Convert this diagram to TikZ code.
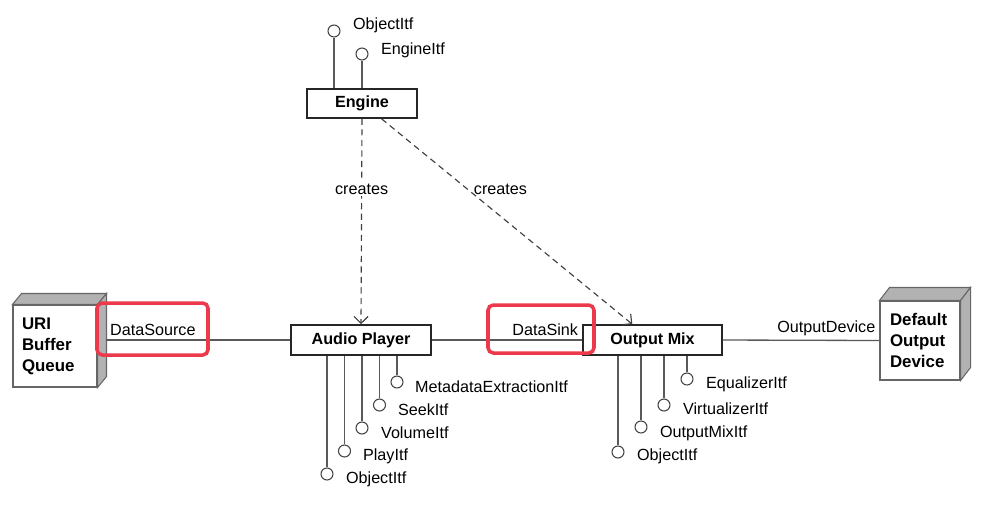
\documentclass[tikz,border=0pt]{standalone}
\usepackage{fontspec}
\setmainfont{Liberation Sans}
\usetikzlibrary{arrows.meta}

\definecolor{hired}{RGB}{236,58,76}
\definecolor{facegray}{RGB}{178,178,178}

\tikzset{
  box/.style={draw=black!85,line width=0.9pt,minimum height=0.6cm,
    font=\fontsize{9.2}{11}\selectfont\bfseries},
  dev/.style={draw=black!60,fill=white,line width=0.6pt,align=left,
    inner xsep=0pt,font=\fontsize{9.6}{12}\selectfont\bfseries},
  face/.style={fill=facegray,draw=black!60,line width=0.6pt},
  itf/.style={circle,draw=black!75,line width=0.6pt,fill=white,
    inner sep=0pt,minimum size=0.24cm},
  itfname/.style={anchor=west,inner sep=1pt},
  wire/.style={draw=black!65,line width=0.75pt},
  creates/.style={draw=black!75,line width=0.65pt,dash pattern=on 3.5pt off 2.5pt,
    -{Straight Barb[length=4pt,width=8pt]}},
  hilite/.style={draw=hired,line width=2pt,rounded corners=3pt}
}

\begin{document}
\begin{tikzpicture}[x=0.02cm,y=-0.02cm,
  every node/.style={font=\fontsize{9.2}{11}\selectfont}]

\useasboundingbox (0,0) rectangle (1001,512);

% objects
\node[box,minimum width=2.2cm,minimum height=0.58cm] (engine) at (362,103.5) {Engine};
\node[box,minimum width=2.8cm] (player) at (361,340) {Audio Player};
\node[box,minimum width=2.78cm] (mix) at (652.5,340) {Output Mix};

% devices
\node[dev,minimum width=1.68cm,minimum height=1.64cm,text width=1.32cm] (uri) at (55,346) {URI\\Buffer\\Queue};
\draw[face] (uri.north west) -- ++(9,-11) -- ([shift={(9,-11)}]uri.north east)
  -- (uri.north east) -- cycle;
\draw[face] (uri.north east) -- ([shift={(9,-11)}]uri.north east)
  -- ([shift={(9,-11)}]uri.south east) -- (uri.south east) -- cycle;
\coordinate (src) at (106,340);

\node[dev,minimum width=1.6cm,minimum height=1.58cm,text width=1.2cm] (out) at (920,340.5) {Default\\Output\\Device};
\draw[face] (out.north west) -- ++(10,-13) -- ([shift={(10,-13)}]out.north east)
  -- (out.north east) -- cycle;
\draw[face] (out.north east) -- ([shift={(10,-13)}]out.north east)
  -- ([shift={(10,-13)}]out.south east) -- (out.south east) -- cycle;

% links
\draw[wire] (src) -- node[pos=0,above right,inner sep=2pt] {DataSource} (player.west);
\draw[wire] (player.east) -- node[pos=1,above left,inner sep=2pt] {DataSink} (mix.west);
\draw[wire] (mix.east) -- node[pos=1,above left,inner sep=2pt] {OutputDevice} (out.west);

\draw[creates] (engine.south) -- node[pos=0.343,fill=white,inner sep=1pt] {creates} (player.north);
\draw[creates] (engine.-38) -- node[pos=0.343,right] {creates} (mix.142);

% engine interfaces
\node[itf] (engObj) at (334,31) {};
\node[itfname] at (351,25) {ObjectItf};
\draw[wire] (engObj) -- (engObj |- engine.north);
\node[itf] (engItf) at (362,54) {};
\node[itfname] at (379,50) {EngineItf};
\draw[wire] (engItf) -- (engItf |- engine.north);

% player interfaces
\node[itf] (apObj) at (327,474) {};
\node[itfname] at (344,479) {ObjectItf};
\draw[wire] (apObj) -- (apObj |- player.south);
\node[itf] (apPlay) at (344.5,451) {};
\node[itfname] at (361,456) {PlayItf};
\draw[wire] (apPlay) -- (apPlay |- player.south);
\node[itf] (apVol) at (362,428) {};
\node[itfname] at (379,433) {VolumeItf};
\draw[wire] (apVol) -- (apVol |- player.south);
\node[itf] (apSeek) at (379.5,405) {};
\node[itfname] at (396,410) {SeekItf};
\draw[wire] (apSeek) -- (apSeek |- player.south);
\node[itf] (apMeta) at (397,382) {};
\node[itfname] at (413,387) {MetadataExtractionItf};
\draw[wire] (apMeta) -- (apMeta |- player.south);

% output mix interfaces
\node[itf] (mixObj) at (618,452) {};
\node[itfname] at (635,456) {ObjectItf};
\draw[wire] (mixObj) -- (mixObj |- mix.south);
\node[itf] (mixOut) at (641,427) {};
\node[itfname] at (658,433) {OutputMixItf};
\draw[wire] (mixOut) -- (mixOut |- mix.south);
\node[itf] (mixVirt) at (664,405) {};
\node[itfname] at (681,409) {VirtualizerItf};
\draw[wire] (mixVirt) -- (mixVirt |- mix.south);
\node[itf] (mixEq) at (687,379) {};
\node[itfname] at (704,384) {EqualizerItf};
\draw[wire] (mixEq) -- (mixEq |- mix.south);

% highlights
\draw[hilite] (97,303) rectangle (208,355);
\draw[hilite] (488,305) rectangle (594,353);

\end{tikzpicture}
\end{document}
